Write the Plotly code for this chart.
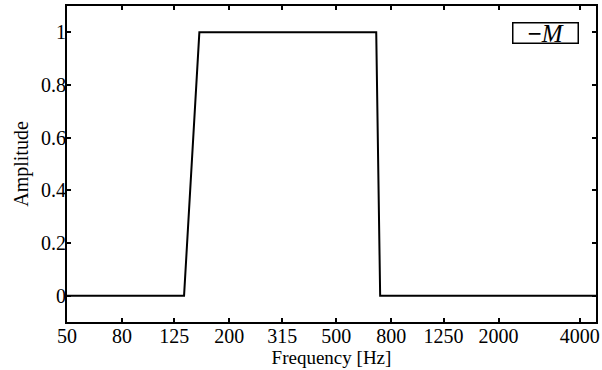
import plotly.graph_objects as go

# Data
freq = [50, 136, 155, 703, 727, 4600]
amplitude = [0, 0, 1, 1, 0, 0]
series_name = "M"

x_tick_vals = [50, 80, 125, 200, 315, 500, 800, 1250, 2000, 4000]
x_tick_text = ["50", "80", "125", "200", "315", "500", "800", "1250", "2000", "4000"]
y_tick_vals = [0, 0.2, 0.4, 0.6, 0.8, 1]
y_tick_text = ["0", "0.2", "0.4", "0.6", "0.8", "1"]

FONT = "Liberation Serif"
FS = 20

fig = go.Figure()
fig.add_trace(go.Scatter(
    x=freq, y=amplitude, mode="lines", name=series_name,
    line=dict(color="black", width=2), showlegend=False,
))

# Legend box (compact, as in the reference)
fig.add_annotation(
    xref="paper", yref="paper", x=0.967, y=0.95, xanchor="right", yanchor="top",
    text="<b>−</b><i>" + series_name + "</i>",
    showarrow=False, width=64, height=19, align="center", valign="middle",
    font=dict(family=FONT, size=25, color="black"),
    bordercolor="black", borderwidth=1.5, borderpad=0, bgcolor="white",
)

fig.update_layout(
    width=602, height=370,
    margin=dict(l=67, r=6, t=6, b=48),
    paper_bgcolor="white", plot_bgcolor="white",
    font=dict(family=FONT, size=FS, color="black"),
    showlegend=False,
)

fig.update_xaxes(
    type="log", range=[1.69897, 3.6628],
    tickvals=x_tick_vals, ticktext=x_tick_text,
    ticks="inside", ticklen=4, tickwidth=1.5, tickcolor="black",
    showline=True, linecolor="black", linewidth=2, mirror="allticks",
    showgrid=False, zeroline=False, automargin=False,
    ticklabelstandoff=-5,
    title=dict(text="Frequency [Hz]", standoff=2, font=dict(family=FONT, size=19)),
    tickfont=dict(family=FONT, size=FS),
)
fig.update_yaxes(
    range=[-0.1, 1.1],
    tickvals=y_tick_vals, ticktext=y_tick_text,
    ticks="inside", ticklen=4, tickwidth=1.5, tickcolor="black",
    showline=True, linecolor="black", linewidth=2, mirror="allticks",
    showgrid=False, zeroline=False, automargin=False,
    ticklabelstandoff=-5,
    title=dict(text="Amplitude", standoff=7, font=dict(family=FONT, size=FS)),
    tickfont=dict(family=FONT, size=FS),
)

fig.write_html("out.html")
